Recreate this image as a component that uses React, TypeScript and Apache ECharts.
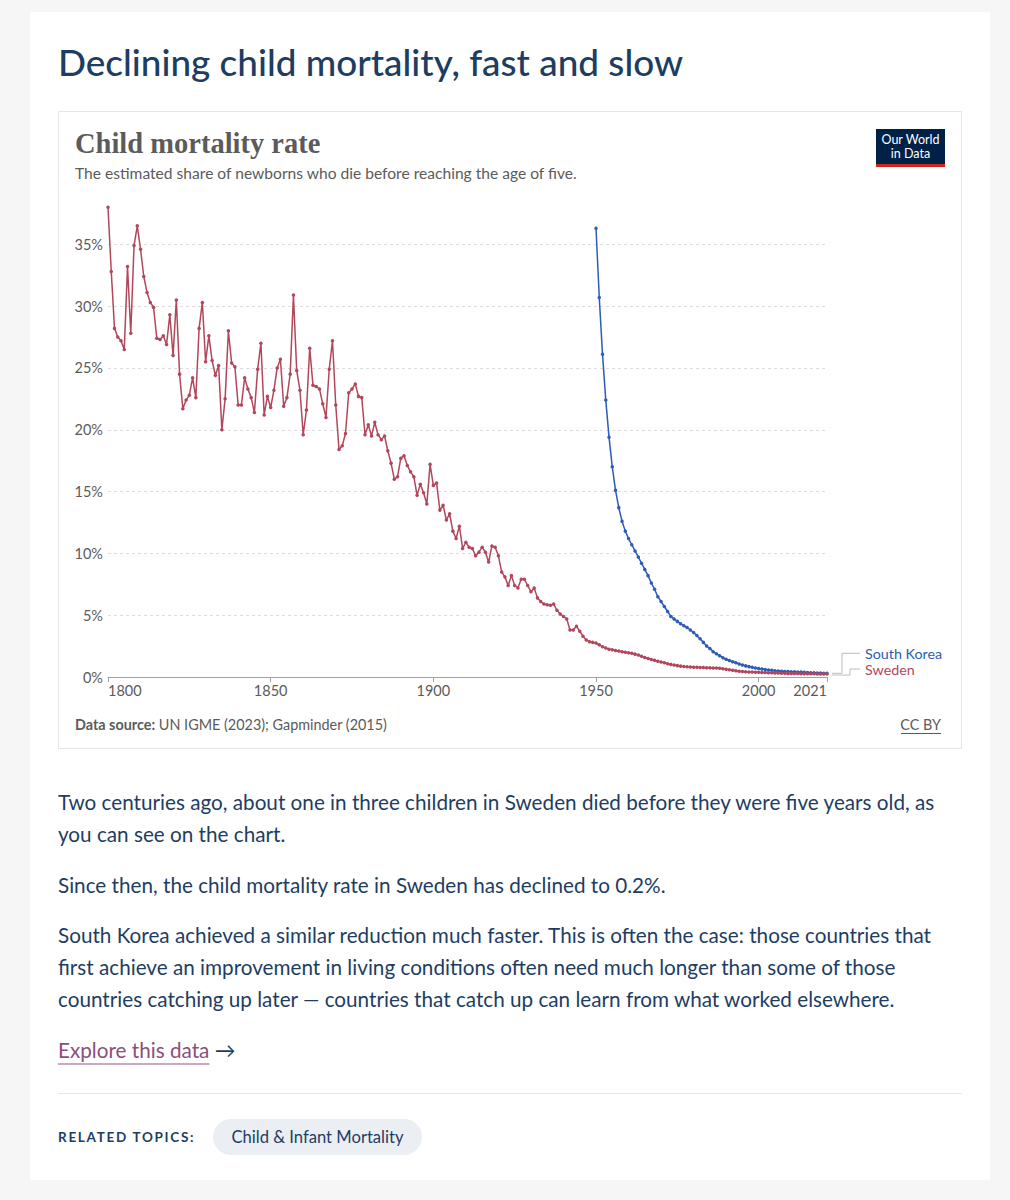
import React, { useEffect, useRef } from "react";
import * as echarts from "echarts";

const swedenStartYear = 1800;
const swedenValues = [
  38.0, 32.8, 28.2, 27.5, 27.2, 26.5, 33.2, 27.8, 34.9, 36.5,
  34.6, 32.4, 31.1, 30.3, 29.9, 27.4, 27.3, 27.6, 26.9, 29.3,
  26.0, 30.5, 24.5, 21.7, 22.4, 22.8, 24.2, 22.6, 28.2, 30.3,
  25.5, 27.6, 25.6, 24.4, 25.2, 20.0, 22.5, 28.0, 25.4, 25.1,
  22.0, 22.0, 24.2, 23.3, 22.6, 21.4, 24.9, 27.0, 21.2, 22.7,
  21.8, 23.2, 25.0, 25.7, 21.9, 22.6, 24.5, 30.9, 24.8, 23.2,
  19.6, 21.6, 26.6, 23.6, 23.5, 23.3, 22.1, 21.0, 24.9, 27.2,
  22.0, 18.4, 18.7, 19.7, 23.0, 23.3, 23.7, 22.7, 22.6, 19.6,
  20.4, 19.5, 20.6, 19.6, 19.2, 19.5, 18.3, 17.3, 16.0, 16.2,
  17.7, 17.9, 17.1, 16.6, 16.2, 14.7, 15.6, 14.9, 14.0, 17.2,
  15.5, 15.7, 13.5, 13.9, 12.7, 13.2, 11.8, 11.2, 12.2, 10.4,
  10.9, 10.5, 10.4, 9.8, 10.1, 10.5, 10.1, 9.3, 10.6, 10.5,
  9.8, 8.5, 8.1, 7.4, 8.2, 7.4, 7.2, 7.9, 7.9, 7.4,
  6.9, 7.2, 6.4, 6.1, 5.9, 5.85, 5.8, 5.9, 5.4, 5.1,
  4.9, 4.7, 3.8, 3.8, 4.1, 3.7, 3.3, 3.0, 2.85, 2.8,
  2.75, 2.6, 2.45, 2.35, 2.25, 2.2, 2.15, 2.1, 2.05, 2.0,
  1.97, 1.92, 1.85, 1.78, 1.68, 1.58, 1.5, 1.42, 1.35, 1.28,
  1.22, 1.15, 1.08, 1.02, 0.97, 0.92, 0.88, 0.85, 0.83, 0.81,
  0.79, 0.78, 0.77, 0.76, 0.75, 0.74, 0.73, 0.72, 0.7, 0.66,
  0.62, 0.58, 0.54, 0.5, 0.47, 0.45, 0.43, 0.41, 0.4, 0.39,
  0.38, 0.37, 0.36, 0.35, 0.34, 0.33, 0.32, 0.31, 0.3, 0.29,
  0.29, 0.28, 0.28, 0.27, 0.27, 0.26, 0.26, 0.26, 0.25, 0.25,
  0.24, 0.24,
];

const koreaStartYear = 1950;
const koreaValues = [
  36.3, 30.7, 26.1, 22.4, 19.4, 17.0, 15.1, 13.7, 12.6, 11.8,
  11.2, 10.7, 10.2, 9.7, 9.2, 8.7, 8.2, 7.6, 7.1, 6.5,
  6.1, 5.7, 5.3, 4.9, 4.7, 4.5, 4.3, 4.15, 4.0, 3.8,
  3.6, 3.35, 3.1, 2.8, 2.5, 2.3, 2.05, 1.88, 1.72, 1.56,
  1.44, 1.33, 1.24, 1.15, 1.06, 0.97, 0.9, 0.84, 0.78, 0.73,
  0.69, 0.65, 0.61, 0.57, 0.54, 0.51, 0.49, 0.47, 0.45, 0.44,
  0.43, 0.42, 0.41, 0.4, 0.38, 0.37, 0.35, 0.34, 0.33, 0.32,
  0.31, 0.3,
];

const xTickYears = [1800, 1850, 1900, 1950, 2000, 2021];
const xMin = 1800;
const xMax = 2021;
const yMax = 38.1;

const SWEDEN_COLOR = "#b2475c";
const KOREA_COLOR = "#2d5cb6";
const NAVY = "#1d3d63";
const GRAY = "#5b5b5b";
const FONT = "Lato, 'Noto Sans', sans-serif";

export default function App() {
  const ref = useRef<HTMLDivElement>(null);

  useEffect(() => {
    if (!ref.current) return;
    const chart = echarts.init(ref.current, null, { renderer: "svg" });
    const sweden = swedenValues.map((v, i) => [swedenStartYear + i, v]);
    const korea = koreaValues.map((v, i) => [koreaStartYear + i, v]);

    chart.setOption({
      animation: false,
      textStyle: { fontFamily: FONT },
      grid: { left: 49, right: 134, top: 94, bottom: 71 },
      xAxis: {
        type: "value",
        min: xMin,
        max: xMax,
        axisLine: { show: true, lineStyle: { color: "#a1a1a1", width: 1 } },
        axisTick: {
          show: true,
          customValues: xTickYears,
          length: 5,
          lineStyle: { color: "#a1a1a1" },
        },
        axisLabel: {
          customValues: xTickYears,
          formatter: (v: number) => String(v),
          color: GRAY,
          fontFamily: FONT,
          fontSize: 14.5,
          margin: 6,
          alignMinLabel: "left",
          alignMaxLabel: "right",
        },
        splitLine: { show: false },
      },
      yAxis: {
        type: "value",
        min: 0,
        max: yMax,
        interval: 5,
        axisLine: { show: false },
        axisTick: { show: false },
        axisLabel: {
          formatter: (v: number) => (v > 36 ? "" : v + "%"),
          showMaxLabel: false,
          color: GRAY,
          fontFamily: FONT,
          fontSize: 14.5,
          margin: 5,
        },
        splitLine: {
          show: true,
          showMinLine: false,
          showMaxLine: false,
          lineStyle: { color: "#dcdcdc", type: [3, 3], width: 1 },
        },
      },
      series: [
        {
          name: "Sweden",
          type: "line",
          data: sweden,
          symbol: "circle",
          symbolSize: 3.5,
          showSymbol: true,
          showAllSymbol: true,
          lineStyle: { color: SWEDEN_COLOR, width: 1.5 },
          itemStyle: { color: SWEDEN_COLOR },
          z: 3,
        },
        {
          name: "South Korea",
          type: "line",
          data: korea,
          symbol: "circle",
          symbolSize: 3.5,
          showSymbol: true,
          showAllSymbol: true,
          lineStyle: { color: KOREA_COLOR, width: 1.5 },
          itemStyle: { color: KOREA_COLOR },
          z: 2,
        },
      ],
    });

    const kLast = korea[korea.length - 1];
    const sLast = sweden[sweden.length - 1];
    const [kx, ky] = chart.convertToPixel({ gridIndex: 0 }, kLast) as number[];
    const [sx, sy] = chart.convertToPixel({ gridIndex: 0 }, sLast) as number[];
    const kLabelY = ky - 20;
    const sLabelY = sy - 5;
    const connColor = "#bdbdbd";

    chart.setOption({
      graphic: [
        {
          type: "text",
          left: 16,
          top: 17,
          style: {
            text: "Child mortality rate",
            fontFamily: "'Liberation Serif', 'DejaVu Serif', serif",
            fontWeight: "bold",
            fontSize: 28.5,
            fill: GRAY,
          },
        },
        {
          type: "text",
          left: 16,
          top: 53,
          style: {
            text: "The estimated share of newborns who die before reaching the age of five.",
            fontFamily: FONT,
            fontSize: 15.6,
            fill: GRAY,
          },
        },
        {
          type: "rect",
          shape: { x: 817, y: 17, width: 69, height: 35 },
          style: { fill: "#002147" },
        },
        {
          type: "rect",
          shape: { x: 817, y: 52, width: 69, height: 3 },
          style: { fill: "#ce261e" },
        },
        {
          type: "text",
          x: 851.5,
          y: 27,
          style: {
            text: "Our World",
            fontFamily: FONT,
            fontSize: 12.5,
            fill: "#ffffff",
            align: "center",
            verticalAlign: "middle",
          },
        },
        {
          type: "text",
          x: 851.5,
          y: 41,
          style: {
            text: "in Data",
            fontFamily: FONT,
            fontSize: 12.5,
            fill: "#ffffff",
            align: "center",
            verticalAlign: "middle",
          },
        },
        {
          type: "text",
          x: 16,
          y: 612,
          style: {
            text: "{b|Data source:} UN IGME (2023); Gapminder (2015)",
            fontFamily: FONT,
            fontSize: 14.4,
            fill: GRAY,
            verticalAlign: "middle",
            rich: {
              b: { fontFamily: FONT, fontSize: 14.4, fontWeight: "bold", fill: GRAY },
            },
          },
        },
        {
          type: "text",
          x: 882,
          y: 612,
          style: {
            text: "CC BY",
            fontFamily: FONT,
            fontSize: 14.4,
            fill: GRAY,
            align: "right",
            verticalAlign: "middle",
          },
        },
        {
          type: "line",
          shape: { x1: 842, y1: 621.5, x2: 882, y2: 621.5 },
          style: { stroke: GRAY, lineWidth: 1 },
        },
        {
          type: "polyline",
          shape: {
            points: [
              [kx + 5, ky],
              [kx + 15, ky],
              [kx + 15, kLabelY],
              [kx + 33, kLabelY],
            ],
          },
          style: { stroke: connColor, lineWidth: 1, fill: null },
        },
        {
          type: "polyline",
          shape: {
            points: [
              [sx + 5, sy + 1],
              [sx + 23, sy + 1],
              [sx + 23, sLabelY],
              [sx + 33, sLabelY],
            ],
          },
          style: { stroke: connColor, lineWidth: 1, fill: null },
        },
        {
          type: "text",
          x: kx + 38,
          y: kLabelY,
          style: {
            text: "South Korea",
            fontFamily: FONT,
            fontSize: 14.3,
            fill: KOREA_COLOR,
            verticalAlign: "middle",
          },
        },
        {
          type: "text",
          x: sx + 38,
          y: sLabelY,
          style: {
            text: "Sweden",
            fontFamily: FONT,
            fontSize: 14.3,
            fill: SWEDEN_COLOR,
            verticalAlign: "middle",
          },
        },
      ],
    });

    return () => chart.dispose();
  }, []);

  const pStyle: React.CSSProperties = {
    margin: 0,
    fontSize: 20.7,
    lineHeight: "32px",
    color: NAVY,
    whiteSpace: "nowrap",
  };

  return (
    <div
      style={{
        position: "absolute",
        left: 0,
        top: 0,
        width: 1010,
        height: 1200,
        background: "#f6f6f6",
        fontFamily: FONT,
        overflow: "hidden",
      }}
    >
      <div
        style={{
          position: "absolute",
          left: 30,
          top: 12,
          width: 960,
          height: 1168,
          background: "#ffffff",
        }}
      />
      <div
        style={{
          position: "absolute",
          left: 58,
          top: 42,
          fontSize: 36.9,
          lineHeight: "40px",
          color: NAVY,
          fontWeight: 500,
          whiteSpace: "nowrap",
        }}
      >
        Declining child mortality, fast and slow
      </div>
      <div
        style={{
          position: "absolute",
          left: 58,
          top: 111,
          width: 902,
          height: 636,
          border: "1px solid #e6e6e6",
        }}
      >
        <div ref={ref} style={{ width: 902, height: 636 }} />
      </div>
      <div style={{ position: "absolute", left: 58, top: 786, width: 904 }}>
        <p style={pStyle}>
          Two centuries ago, about one in three children in Sweden died before they were five years old, as
          <br />
          you can see on the chart.
        </p>
        <p style={{ ...pStyle, marginTop: 19 }}>
          Since then, the child mortality rate in Sweden has declined to 0.2%.
        </p>
        <p style={{ ...pStyle, marginTop: 18 }}>
          South Korea achieved a similar reduction much faster. This is often the case: those countries that
          <br />
          first achieve an improvement in living conditions often need much longer than some of those
          <br />
          countries catching up later — countries that catch up can learn from what worked elsewhere.
        </p>
        <p style={{ ...pStyle, marginTop: 19 }}>
          <span
            style={{
              color: "#8a4f7d",
              textDecoration: "underline",
              textDecorationColor: "#c9a9c0",
              textUnderlineOffset: 5,
            }}
          >
            Explore this data
          </span>
          <span style={{ color: NAVY }}> →</span>
        </p>
      </div>
      <div
        style={{
          position: "absolute",
          left: 58,
          top: 1093,
          width: 904,
          height: 1,
          background: "#e8e8e8",
        }}
      />
      <div
        style={{
          position: "absolute",
          left: 58,
          top: 1128,
          fontSize: 13.5,
          lineHeight: "18px",
          fontWeight: 700,
          letterSpacing: "1.7px",
          color: NAVY,
          whiteSpace: "nowrap",
        }}
      >
        RELATED TOPICS:
      </div>
      <div
        style={{
          position: "absolute",
          left: 213,
          top: 1119,
          width: 209,
          height: 36,
          borderRadius: 18,
          background: "#ebeef3",
          color: NAVY,
          fontSize: 16.6,
          lineHeight: "36px",
          textAlign: "center",
          whiteSpace: "nowrap",
        }}
      >
        Child &amp; Infant Mortality
      </div>
    </div>
  );
}
